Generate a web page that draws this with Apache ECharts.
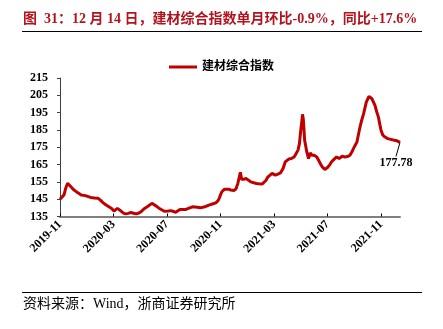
<!DOCTYPE html>
<html><head><meta charset="utf-8">
<script src="https://cdn.jsdelivr.net/npm/echarts@6/dist/echarts.min.js"></script>
<style>html,body{margin:0;padding:0;background:#fff}#c{width:443px;height:329px}</style>
</head><body><div id="c"></div>
<script>
const titleText = '图  31：12 月 14 日，建材综合指数单月环比-0.9%，同比+17.6%';
const sourceText = '资料来源：Wind，浙商证券研究所';
const seriesName = '建材综合指数';
const yTicks = [135, 145, 155, 165, 175, 185, 195, 205, 215];
const tickMonths = ['2019-11','2020-03','2020-07','2020-11','2021-03','2021-07','2021-11'];
const dates = [
'2019-11-01','2019-11-05','2019-11-10','2019-11-14','2019-11-18','2019-11-22','2019-11-26',
'2019-12-01','2019-12-07','2019-12-13','2019-12-19','2019-12-25',
'2020-01-01','2020-01-10','2020-01-19','2020-01-27',
'2020-02-01','2020-02-07','2020-02-14','2020-02-20','2020-02-26',
'2020-03-02','2020-03-05','2020-03-10','2020-03-14','2020-03-19','2020-03-25','2020-03-30',
'2020-04-04','2020-04-10','2020-04-16','2020-04-22','2020-04-28',
'2020-05-03','2020-05-10','2020-05-18','2020-05-22','2020-05-28',
'2020-06-01','2020-06-07','2020-06-13','2020-06-19','2020-06-25','2020-06-29',
'2020-07-04','2020-07-10','2020-07-16','2020-07-21','2020-07-25','2020-07-31',
'2020-08-07','2020-08-14','2020-08-21','2020-08-29',
'2020-09-04','2020-09-09','2020-09-16','2020-09-20','2020-09-28',
'2020-10-05','2020-10-13','2020-10-21','2020-10-26','2020-10-29',
'2020-11-01','2020-11-04','2020-11-10','2020-11-14','2020-11-19','2020-11-24',
'2020-12-01','2020-12-06','2020-12-10','2020-12-16','2020-12-19','2020-12-24','2020-12-29',
'2021-01-04','2021-01-09','2021-01-13','2021-01-22','2021-01-28',
'2021-02-04','2021-02-08','2021-02-12','2021-02-16','2021-02-20','2021-02-25',
'2021-03-01','2021-03-04','2021-03-10','2021-03-16','2021-03-22','2021-03-27','2021-03-30',
'2021-04-04','2021-04-10','2021-04-16','2021-04-20','2021-04-25','2021-04-28',
'2021-05-01','2021-05-04','2021-05-05','2021-05-07','2021-05-10','2021-05-15','2021-05-19','2021-05-23','2021-05-27',
'2021-06-01','2021-06-04','2021-06-07','2021-06-11','2021-06-16','2021-06-19','2021-06-25',
'2021-07-01','2021-07-06','2021-07-10','2021-07-16','2021-07-22','2021-07-28',
'2021-08-04','2021-08-10','2021-08-16','2021-08-22','2021-08-27','2021-08-30',
'2021-09-07','2021-09-13','2021-09-17','2021-09-22','2021-09-28',
'2021-10-04','2021-10-07','2021-10-11','2021-10-18','2021-10-22','2021-10-26','2021-10-29',
'2021-11-01','2021-11-05','2021-11-10','2021-11-16','2021-11-20','2021-11-25',
'2021-12-01','2021-12-07','2021-12-14'
];
const values = [
145.0,145.5,147.5,151.5,154.2,153.8,152.0,
150.6,149.5,148.5,147.4,147.2,
146.8,146.0,145.7,145.5,
144.6,143.0,141.6,140.6,139.6,
138.2,139.0,139.7,139.0,138.0,136.8,136.5,
136.8,137.3,136.9,136.5,137.0,
137.8,139.5,140.8,141.0,142.6,
142.2,141.0,139.8,138.9,138.0,137.8,
138.2,138.4,137.9,137.4,138.3,139.1,
139.0,139.1,139.8,140.6,
140.5,140.3,140.0,140.1,140.8,
141.6,142.2,142.9,144.0,145.5,
147.5,149.3,150.8,151.6,150.8,150.3,
150.0,151.0,154.0,160.5,156.5,156.5,157.0,
156.0,155.0,154.5,154.1,153.9,
153.7,154.5,155.8,157.8,158.5,159.9,
159.0,158.9,159.5,160.2,162.7,166.5,167.5,
168.2,168.5,169.4,171.0,173.5,177.1,
184.8,191.0,194.0,191.0,179.0,172.3,168.5,171.7,170.4,
170.4,170.4,169.4,167.5,165.0,163.7,162.2,
163.3,164.8,166.5,168.0,169.4,168.5,
169.8,169.4,169.6,170.4,172.5,174.2,
178.0,185.7,190.0,194.4,201.1,
204.4,204.5,203.0,199.2,195.5,192.4,188.5,
184.8,182.0,180.9,180.0,180.2,179.4,
179.0,178.7,177.78
];

function monthIndex(s){
  const p = s.split('-').map(Number);
  const dim = new Date(p[0], p[1], 0).getDate();
  return (p[0]-2019)*12 + (p[1]-11) + ((p[2]||1)-1)/dim;
}
const tickVals = tickMonths.map(monthIndex);
const data = dates.map((d,i)=>[monthIndex(d), values[i]]);
const last = data.length-1;
const xMax = monthIndex(dates[last]);
const serif = '"Liberation Serif","Times New Roman","Noto Sans CJK SC",serif';
data[last] = {value: data[last], label:{show:true, formatter: String(values[last]), position:'bottom', distance:0,
  fontFamily:serif, fontWeight:'bold', fontSize:12, color:'#000'},
  labelLine:{show:true, length2:0, lineStyle:{color:'#000', width:1}}};

const chart = echarts.init(document.getElementById('c'), null, {renderer:'canvas'});
chart.setOption({
  animation:false,
  backgroundColor:'#fff',
  graphic:[
    {type:'text', left:23, top:12, style:{text:titleText, fill:'#b2141e', font:'bold 14px ' + serif}},
    {type:'line', shape:{x1:22,y1:31.5,x2:422,y2:31.5}, style:{stroke:'#000', lineWidth:1}},
    {type:'line', shape:{x1:22,y1:292.5,x2:422,y2:292.5}, style:{stroke:'#000', lineWidth:1}},
    {type:'text', left:23, top:297, style:{text:sourceText, fill:'#000', font:'14px ' + serif}}
  ],
  legend:{top:56, left:'center', itemWidth:28, itemHeight:3, itemGap:4,
    icon:'rect',
    textStyle:{fontFamily:serif, fontWeight:'bold', fontSize:12, color:'#000'},
    data:[seriesName]},
  grid:{left:60, right:43, top:78, bottom:112.5, containLabel:false},
  xAxis:{type:'value', min:0, max:xMax,
    axisLine:{lineStyle:{color:'#808080', width:2}},
    axisTick:{show:true, inside:true, length:3, customValues:tickVals, lineStyle:{color:'#000'}},
    axisLabel:{customValues:tickVals, rotate:45, margin:6,
      formatter:function(v){ const t = 10 + Math.round(v); const y = 2019 + Math.floor(t/12); const m = t%12+1; return y + '-' + (m<10?'0':'') + m; },
      fontFamily:serif, fontWeight:'bold', fontSize:12, color:'#000'},
    splitLine:{show:false}},
  yAxis:{type:'value', min:yTicks[0], max:yTicks[yTicks.length-1], interval:10,
    axisLine:{show:true, lineStyle:{color:'#404040', width:1}},
    axisTick:{show:true, length:3, lineStyle:{color:'#404040'}},
    axisLabel:{fontFamily:serif, fontWeight:'bold', fontSize:12, color:'#000', margin:12},
    splitLine:{show:false}},
  series:[{name:seriesName, type:'line', data:data, showSymbol:true, showAllSymbol:true,
    symbol:'circle', symbolSize:0.01,
    lineStyle:{color:'#c00000', width:3}, itemStyle:{color:'#c00000'},
    labelLayout:{dx:-4, dy:14},
    z:3}]
});
</script></body></html>
